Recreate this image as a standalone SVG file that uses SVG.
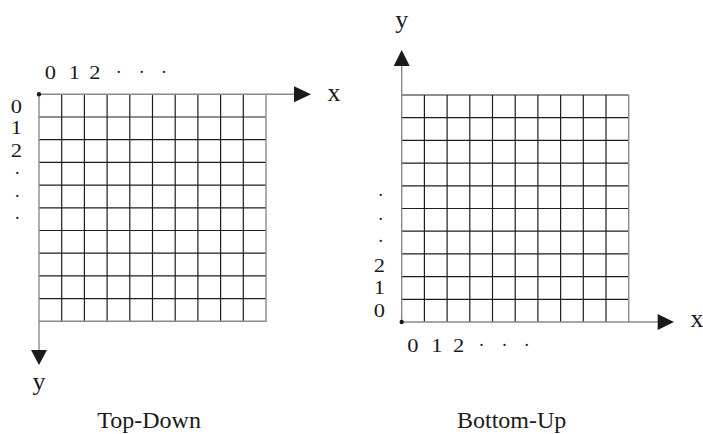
<svg xmlns="http://www.w3.org/2000/svg" width="703" height="434" viewBox="0 0 703 434">
<style>
text{font-family:"Liberation Serif","Times New Roman",serif;fill:#1a1a1a}
.d{font-size:18px;text-anchor:middle}
.ax{font-size:26px;text-anchor:middle}
.t{font-size:24px}
.inner{stroke:#1e1e1e;stroke-width:1.2;fill:none}
.frame{stroke:#8a8a8a;stroke-width:1.4;fill:none}
.head{fill:#1a1a1a}
</style>
<rect width="703" height="434" fill="#fff"/>
<g id="top-down">
  <path class="inner" d="M61.7 94.3V321.3M84.4 94.3V321.3M107.1 94.3V321.3M129.8 94.3V321.3M152.5 94.3V321.3M175.2 94.3V321.3M197.9 94.3V321.3M220.6 94.3V321.3M243.3 94.3V321.3M39 117H266M39 139.7H266M39 162.4H266M39 185.1H266M39 207.8H266M39 230.5H266M39 253.2H266M39 275.9H266M39 298.6H266"/>
  <path class="frame" d="M266 94.3V321.3H39"/>
  <g id="td-axes">
    <path class="frame" d="M39 94.3H295M39 94.3V351"/>
    <polygon class="head" points="294,86.3 311,94.3 294,102.3"/>
    <polygon class="head" points="31,350 47,350 39,365"/>
    <circle cx="39" cy="94.3" r="2.2" fill="#1a1a1a"/>
  </g>
  <text class="ax" x="334" y="100.7">x</text>
  <text class="ax" x="39" y="390">y</text>
  <text class="d" transform="translate(50.5 79) scale(1.25 1)">0</text>
  <text class="d" transform="translate(74.5 79) scale(1.25 1)">1</text>
  <text class="d" transform="translate(95 79) scale(1.25 1)">2</text>
  <text class="d" x="118.7" y="78">·</text>
  <text class="d" x="141.8" y="78">·</text>
  <text class="d" x="164" y="78">·</text>
  <text class="d" transform="translate(16.5 112.5) scale(1.25 1)">0</text>
  <text class="d" transform="translate(16.5 134.3) scale(1.25 1)">1</text>
  <text class="d" transform="translate(16.5 156.7) scale(1.25 1)">2</text>
  <text class="d" x="17.3" y="179">·</text>
  <text class="d" x="17.3" y="201.7">·</text>
  <text class="d" x="17.3" y="224.4">·</text>
  <text class="t" x="97.3" y="427.7">Top-Down</text>
</g>
<g id="bottom-up">
  <path class="inner" d="M424.4 95V322M447.1 95V322M469.8 95V322M492.5 95V322M515.2 95V322M537.9 95V322M560.6 95V322M583.3 95V322M606 95V322M401.7 117.7H628.7M401.7 140.4H628.7M401.7 163.1H628.7M401.7 185.8H628.7M401.7 208.5H628.7M401.7 231.2H628.7M401.7 253.9H628.7M401.7 276.6H628.7M401.7 299.3H628.7M401.7 95H628.7"/>
  <path class="frame" d="M628.7 95V322"/>
  <g id="bu-axes">
    <path class="frame" d="M401.7 322H658.5M401.7 322V65"/>
    <polygon class="head" points="657.7,314 674,322 657.7,330"/>
    <polygon class="head" points="393.7,66 409.7,66 401.7,50"/>
    <circle cx="401.7" cy="322" r="2.2" fill="#1a1a1a"/>
  </g>
  <text class="ax" x="697" y="327.3">x</text>
  <text class="ax" x="401.7" y="28">y</text>
  <text class="d" transform="translate(413 351.7) scale(1.25 1)">0</text>
  <text class="d" transform="translate(437 351.7) scale(1.25 1)">1</text>
  <text class="d" transform="translate(458.7 351.7) scale(1.25 1)">2</text>
  <text class="d" x="481.5" y="350.7">·</text>
  <text class="d" x="504.5" y="350.7">·</text>
  <text class="d" x="526.7" y="350.7">·</text>
  <text class="d" transform="translate(379.5 316.7) scale(1.25 1)">0</text>
  <text class="d" transform="translate(379.5 294.3) scale(1.25 1)">1</text>
  <text class="d" transform="translate(379.5 272.3) scale(1.25 1)">2</text>
  <text class="d" x="380.7" y="246.5">·</text>
  <text class="d" x="380.7" y="224.5">·</text>
  <text class="d" x="380.7" y="201.2">·</text>
  <text class="t" x="457" y="427.7">Bottom-Up</text>
</g>
</svg>
